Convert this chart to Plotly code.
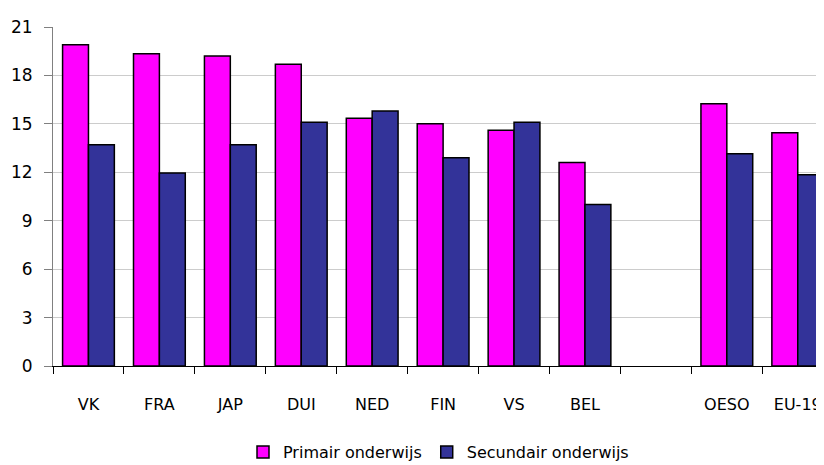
import plotly.graph_objects as go

categories = ["VK", "FRA", "JAP", "DUI", "NED", "FIN", "VS", "BEL", " ", "OESO", "EU-19"]
primair = [19.9, 19.35, 19.2, 18.7, 15.35, 15.0, 14.6, 12.6, None, 16.25, 14.45]
secundair = [13.7, 11.95, 13.7, 15.1, 15.8, 12.9, 15.1, 10.0, None, 13.15, 11.85]
y_ticks = [0, 3, 6, 9, 12, 15, 18, 21]

font_family = "DejaVu Sans, Verdana, sans-serif"

fig = go.Figure()
fig.add_trace(go.Bar(
    x=categories, y=primair, name="Primair onderwijs",
    marker=dict(color="#FF00FF", line=dict(color="#000000", width=1.5)),
))
fig.add_trace(go.Bar(
    x=categories, y=secundair, name="Secundair onderwijs",
    marker=dict(color="#333399", line=dict(color="#000000", width=1.5)),
))

fig.update_layout(
    width=816, height=457,
    margin=dict(l=45, r=0, t=19, b=99),
    paper_bgcolor="white", plot_bgcolor="white",
    barmode="group", bargap=0.27, bargroupgap=0,
    font=dict(family=font_family, size=16, color="#000000"),
    showlegend=True,
    legend=dict(orientation="h", x=0.5, xanchor="center",
                yref="container", y=0.028, yanchor="middle",
                font=dict(size=16), itemwidth=30, tracegroupgap=0),
)
fig.update_xaxes(
    type="category", range=[-0.5, 10.37],
    showline=True, linecolor="#000000", linewidth=1,
    ticks="outside", tickson="boundaries", ticklen=7, tickcolor="#000000",
    showgrid=False, tickfont=dict(size=16), ticklabelstandoff=24,
)
fig.update_yaxes(
    range=[0, 21], tickvals=y_ticks,
    showline=True, linecolor="#808080", linewidth=1,
    ticks="outside", ticklen=8, tickcolor="#808080",
    showgrid=True, gridcolor="#cccccc", gridwidth=1,
    zeroline=False, tickfont=dict(size=17), ticklabelstandoff=8,
)

fig.write_html("out.html")
